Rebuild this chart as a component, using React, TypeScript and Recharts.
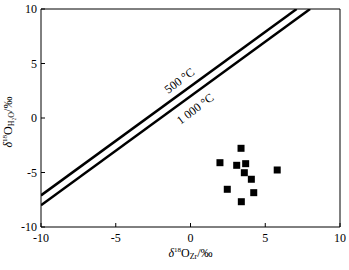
import { ScatterChart, Scatter, XAxis, YAxis, ReferenceLine, ReferenceDot } from 'recharts'

const TICKS = [-10, -5, 0, 5, 10]

// zircon vs water oxygen isotope values
const ZR_VALUES = [3.38, 1.97, 3.09, 3.69, 3.6, 4.07, 5.8, 2.46, 4.23, 3.4]
const WATER_VALUES = [-2.78, -4.1, -4.34, -4.19, -5.02, -5.62, -4.77, -6.54, -6.85, -7.68]

// equilibrium lines (endpoints in data units)
const LINE_500 = [{ x: -10, y: -7.1 }, { x: 7.1, y: 10 }]
const LINE_1000 = [{ x: -10, y: -8 }, { x: 8, y: 10 }]

const FONT = '"Liberation Serif", "DejaVu Serif", serif'

const points = ZR_VALUES.map((x, i) => ({ x, y: WATER_VALUES[i] }))

function SquareShape(props: any) {
  const { cx, cy } = props
  if (cx == null || cy == null) return null
  return <rect x={cx - 3.5} y={cy - 3.5} width={7} height={7} fill="#000" />
}

const tickStyle = { fill: '#000', fontSize: 12, fontFamily: FONT }

export default function App() {
  return (
    <div style={{ position: 'absolute', left: 0, top: 0, background: '#fff' }}>
      <ScatterChart width={349} height={270} margin={{ top: 9, right: 9, left: 17, bottom: 23 }}>
        <XAxis
          type="number"
          dataKey="x"
          domain={[-10, 10]}
          ticks={TICKS}
          tick={tickStyle}
          tickSize={-4}
          tickMargin={10}
          height={20}
          stroke="#000"
          allowDataOverflow
          label={{
            value: 'δ¹⁸O_Zr/‰',
            content: (p: any) => {
              const vb = p.viewBox
              return (
                <text x={vb.x + vb.width / 2} y={vb.y + 30} textAnchor="middle" fontFamily={FONT} fontSize={12} fill="#000">
                  <tspan fontStyle="italic">δ</tspan>
                  <tspan fontSize={7} dy={-5}>18</tspan>
                  <tspan dy={5}>O</tspan>
                  <tspan fontSize={8} dy={2}>Zr</tspan>
                  <tspan dy={-2}>/‰</tspan>
                </text>
              )
            },
          }}
        />
        <YAxis
          type="number"
          dataKey="y"
          domain={[-10, 10]}
          ticks={TICKS}
          tick={tickStyle}
          tickSize={-4}
          tickMargin={8}
          width={24}
          stroke="#000"
          allowDataOverflow
          label={{
            value: 'δ¹⁸O_H2O/‰',
            content: (p: any) => {
              const vb = p.viewBox
              const cx = 12
              const cy = vb.y + vb.height / 2 + 4
              return (
                <text x={cx} y={cy} transform={`rotate(-90 ${cx} ${cy})`} textAnchor="middle" fontFamily={FONT} fontSize={12} fill="#000">
                  <tspan fontStyle="italic">δ</tspan>
                  <tspan fontSize={7} dy={-5}>18</tspan>
                  <tspan dy={5}>O</tspan>
                  <tspan fontSize={8} dy={2}>H₂O</tspan>
                  <tspan dy={-2}>/‰</tspan>
                </text>
              )
            },
          }}
        />
        <ReferenceLine y={10} stroke="#000" strokeWidth={1} />
        <ReferenceLine x={10} stroke="#000" strokeWidth={1} />
        <ReferenceLine segment={LINE_500} stroke="#000" strokeWidth={2.5} ifOverflow="hidden" />
        <ReferenceLine segment={LINE_1000} stroke="#000" strokeWidth={2.5} ifOverflow="hidden" />
        <ReferenceDot
          x={-0.75}
          y={3.45}
          r={0}
          stroke="none"
          label={{ value: '500 °C', angle: -37, position: 'center', fontSize: 12, fontFamily: FONT, fill: '#000' }}
        />
        <ReferenceDot
          x={0.3}
          y={0.85}
          r={0}
          stroke="none"
          label={{ value: '1 000 °C', angle: -37, position: 'center', fontSize: 12, fontFamily: FONT, fill: '#000' }}
        />
        <Scatter data={points} shape={<SquareShape />} isAnimationActive={false} />
      </ScatterChart>
    </div>
  )
}
